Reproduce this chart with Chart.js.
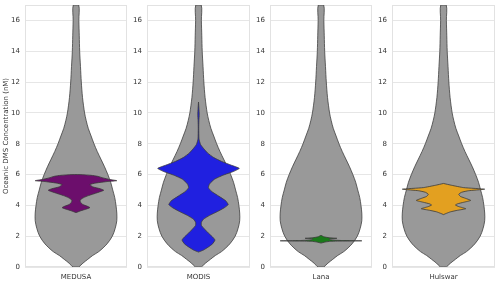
<!DOCTYPE html>
<html>
<head>
<meta charset="utf-8">
<script src="https://cdn.jsdelivr.net/npm/chart.js@4.4.1/dist/chart.umd.min.js"></script>
<style>
    body { margin: 0; background: #fff; }
    #wrap { position: relative; width: 500px; height: 284px; }
    canvas { position: absolute; top: 0; }
</style>
</head>
<body>
<div id="wrap">
    <canvas id="p0" width="127" height="284" style="left:0px"></canvas>
    <canvas id="p1" width="123" height="284" style="left:127px"></canvas>
    <canvas id="p2" width="122" height="284" style="left:250px"></canvas>
    <canvas id="p3" width="123" height="284" style="left:372px"></canvas>
</div>
<script>
// categories and tick labels
const categories = ['MEDUSA', 'MODIS', 'Lana', 'Hulswar'];
const yTicks = [0, 2, 4, 6, 8, 10, 12, 14, 16];

// grey violin (all observations), density relative to its widest point
const allY = [0, 0.25, 0.5, 0.75, 1, 1.5, 2, 2.5, 3, 3.5, 4, 4.5, 5, 5.5, 6, 6.5, 7, 7.5, 8, 8.5, 9, 9.5, 10, 11, 12, 13, 14, 15, 16, 17];
const allDensity = [0.07, 0.17, 0.29, 0.41, 0.56, 0.76, 0.89, 0.96, 1.0, 1.0, 0.98, 0.95, 0.9, 0.85, 0.78, 0.7, 0.61, 0.52, 0.44, 0.37, 0.3, 0.25, 0.21, 0.16, 0.13, 0.11, 0.09, 0.08, 0.07, 0.066];

// model violins
const medusaY = [3.53, 3.65, 3.75, 3.85, 3.95, 4.05, 4.2, 4.33, 4.45, 4.6, 4.75, 4.9, 4.98, 5.08, 5.2, 5.35, 5.45, 5.55, 5.6, 5.68, 5.78, 5.88, 5.95, 5.99, 6.0];
const medusaDensity = [0, 0.12, 0.24, 0.34, 0.27, 0.17, 0.11, 0.1, 0.15, 0.27, 0.44, 0.61, 0.68, 0.59, 0.41, 0.34, 0.49, 0.78, 1.0, 0.83, 0.66, 0.54, 0.37, 0.15, 0];

const modisY = [0.97, 1.1, 1.3, 1.5, 1.75, 1.95, 2.2, 2.45, 2.7, 2.9, 3.1, 3.35, 3.6, 3.85, 4.05, 4.3, 4.6, 4.9, 5.15, 5.4, 5.7, 5.95, 6.2, 6.4, 6.6, 6.85, 7.1, 7.4, 7.7, 7.95, 8.3, 9.0, 9.5, 9.9, 10.3, 10.7];
const modisDensity = [0, 0.12, 0.24, 0.34, 0.4, 0.34, 0.24, 0.15, 0.07, 0.07, 0.12, 0.27, 0.46, 0.63, 0.72, 0.66, 0.49, 0.32, 0.24, 0.27, 0.39, 0.59, 0.85, 0.99, 0.8, 0.56, 0.37, 0.22, 0.12, 0.05, 0.012, 0.006, 0.01, 0.018, 0.01, 0];

const lanaY = [1.55, 1.62, 1.67, 1.7, 1.72, 1.76, 1.82, 1.86, 1.9, 1.96, 2.06];
const lanaDensity = [0, 0.1, 0.24, 1.0, 0.49, 0.24, 0.2, 0.39, 0.2, 0.07, 0];

const hulswarY = [3.4, 3.48, 3.58, 3.68, 3.78, 3.85, 3.92, 4.02, 4.1, 4.2, 4.32, 4.45, 4.58, 4.72, 4.85, 4.95, 5.05, 5.15, 5.3, 5.42];
const hulswarDensity = [0, 0.07, 0.17, 0.34, 0.54, 0.46, 0.37, 0.29, 0.34, 0.49, 0.66, 0.54, 0.41, 0.37, 0.44, 0.61, 1.0, 0.49, 0.2, 0];

const modelY = [medusaY, modisY, lanaY, hulswarY];
const modelDensity = [medusaDensity, modisDensity, lanaDensity, hulswarDensity];
const modelColors = ['#6c0e6c', '#2020e0', '#1a7a1a', '#e3a020'];

const halfWidth = 0.4;

// right side going up, left side coming down, closed
function violinPoints(ys, ds) {
    const pts = [];
    for (let i = 0; i < ys.length; i++) pts.push({x: ds[i] * halfWidth, y: ys[i]});
    for (let i = ys.length - 1; i >= 0; i--) pts.push({x: -ds[i] * halfWidth, y: ys[i]});
    pts.push(pts[0]);
    return pts;
}

const framePlugin = {
    id: 'frame',
    beforeDatasetsDraw(chart) {
        const a = chart.chartArea;
        const ctx = chart.ctx;
        ctx.save();
        ctx.strokeStyle = '#e2e2e2';
        ctx.lineWidth = 1;
        ctx.strokeRect(a.left + 0.5, a.top + 0.5, a.right - a.left - 1, a.bottom - a.top - 1);
        ctx.restore();
    }
};

categories.forEach((name, i) => {
    const ctx = document.getElementById('p' + i).getContext('2d');
    new Chart(ctx, {
        type: 'scatter',
        data: {
            datasets: [{
                data: violinPoints(modelY[i], modelDensity[i]),
                showLine: true,
                fill: 'shape',
                backgroundColor: modelColors[i],
                borderColor: '#3a3a3a',
                borderWidth: 0.8,
                pointRadius: 0,
                tension: 0.15,
                order: 0
            }, {
                data: violinPoints(allY, allDensity),
                showLine: true,
                fill: 'shape',
                backgroundColor: '#999999',
                borderColor: '#404040',
                borderWidth: 0.8,
                pointRadius: 0,
                tension: 0.3,
                order: 1
            }]
        },
        options: {
            responsive: false,
            animation: false,
            layout: { padding: { top: 5, right: 0, left: 0, bottom: 0 } },
            plugins: { legend: { display: false }, tooltip: { enabled: false } },
            scales: {
                x: {
                    type: 'linear',
                    min: -0.5,
                    max: 0.5,
                    grid: { display: false },
                    border: { display: false },
                    ticks: { display: false },
                    afterFit: s => { s.height = 17; s.paddingLeft = 0; s.paddingRight = 0; },
                    title: {
                        display: true,
                        text: name,
                        color: '#333',
                        padding: { top: 0, bottom: 3 },
                        font: { family: 'DejaVu Sans', size: 7 }
                    }
                },
                y: {
                    min: 0,
                    max: 17,
                    afterBuildTicks: s => { s.ticks = yTicks.map(v => ({value: v})); },
                    afterFit: s => {
                        s.width = i === 0 ? 25 : 20;
                        s.paddingTop = 0;
                        s.paddingBottom = 0;
                    },
                    grid: { color: '#e6e6e6', lineWidth: 1, drawTicks: false },
                    border: { display: false },
                    title: {
                        display: i === 0,
                        text: 'Oceanic DMS Concentration (nM)',
                        color: '#333',
                        padding: { top: 2, bottom: 2 },
                        font: { family: 'DejaVu Sans', size: 7 }
                    },
                    ticks: {
                        color: '#333',
                        padding: 5,
                        font: { family: 'DejaVu Sans', size: 7 }
                    }
                }
            }
        },
        plugins: [framePlugin]
    });
});
</script>
</body>
</html>
